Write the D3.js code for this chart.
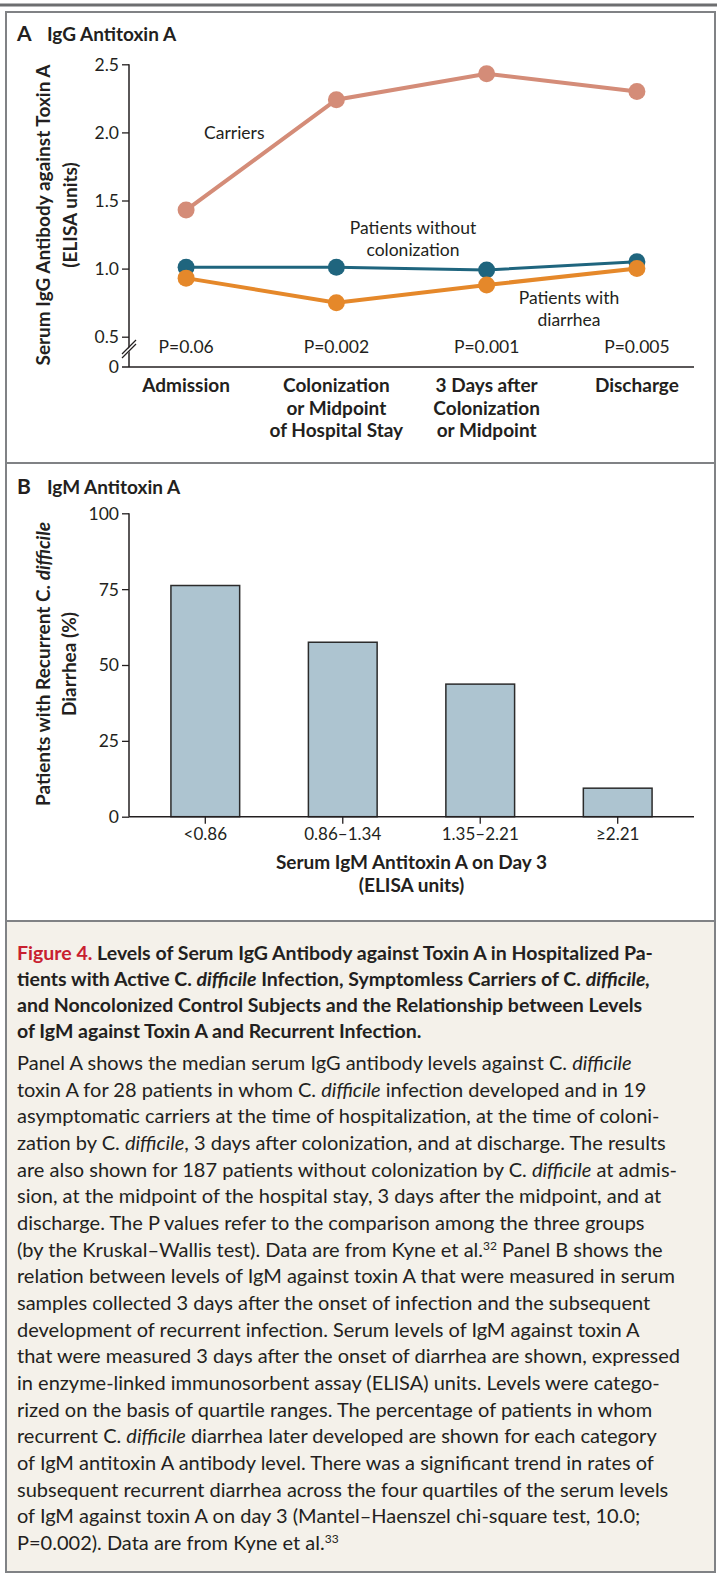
<!DOCTYPE html>
<html>
<head>
<meta charset="utf-8">
<script src="https://d3js.org/d3.v7.min.js"></script>
<style>
  body { margin: 0; background: #fff; }
  svg text { font-family: Lato, "Open Sans", sans-serif; fill: #231f20; }
</style>
</head>
<body>
<svg id="fig" width="718" height="1576"></svg>
<script>
// ---- panel A: median IgG antitoxin A ----
const timepoints = [
  ['Admission'],
  ['Colonization', 'or Midpoint', 'of Hospital Stay'],
  ['3 Days after', 'Colonization', 'or Midpoint'],
  ['Discharge']
];
const carriers = [1.43, 2.24, 2.43, 2.30];
const noColonization = [1.01, 1.01, 0.99, 1.05];
const withDiarrhea = [0.93, 0.75, 0.88, 1.00];
const pValues = ['P=0.06', 'P=0.002', 'P=0.001', 'P=0.005'];
const yTicksA = [0.5, 1.0, 1.5, 2.0, 2.5];

// ---- panel B: recurrent diarrhea by IgM quartile ----
const igmBins = ['<0.86', '0.86\u20131.34', '1.35\u20132.21', '\u22652.21'];
const recurrentPct = [76.2, 57.5, 43.7, 9.4];
const yTicksB = [0, 25, 50, 75, 100];

// caption (*italic*, ^superscript^, [red])
const captionTitle = [
  '[Figure 4.] Levels of Serum IgG Antibody against Toxin A in Hospitalized Pa-',
  'tients with Active C. *difficile* Infection, Symptomless Carriers of C. *difficile,*',
  'and Noncolonized Control Subjects and the Relationship between Levels',
  'of IgM against Toxin A and Recurrent Infection.'
];
const captionBody = [
  'Panel A shows the median serum IgG antibody levels against C. *difficile*',
  'toxin A for 28 patients in whom C. *difficile* infection developed and in 19',
  'asymptomatic carriers at the time of hospitalization, at the time of coloni-',
  'zation by C. *difficile*, 3 days after colonization, and at discharge. The results',
  'are also shown for 187 patients without colonization by C. *difficile* at admis-',
  'sion, at the midpoint of the hospital stay, 3 days after the midpoint, and at',
  'discharge. The P values refer to the comparison among the three groups',
  '(by the Kruskal\u2013Wallis test). Data are from Kyne et al.^32^ Panel B shows the',
  'relation between levels of IgM against toxin A that were measured in serum',
  'samples collected 3 days after the onset of infection and the subsequent',
  'development of recurrent infection. Serum levels of IgM against toxin A',
  'that were measured 3 days after the onset of diarrhea are shown, expressed',
  'in enzyme-linked immunosorbent assay (ELISA) units. Levels were catego-',
  'rized on the basis of quartile ranges. The percentage of patients in whom',
  'recurrent C. *difficile* diarrhea later developed are shown for each category',
  'of IgM antitoxin A antibody level. There was a significant trend in rates of',
  'subsequent recurrent diarrhea across the four quartiles of the serum levels',
  'of IgM against toxin A on day 3 (Mantel\u2013Haenszel chi-square test, 10.0;',
  'P=0.002). Data are from Kyne et al.^33^'
];

const svg = d3.select('#fig');
const ink = '#231f20';
const frameGray = '#808285';

// frame + caption box
svg.append('rect')
  .attr('x', 6).attr('y', 921).attr('width', 709).attr('height', 651)
  .attr('fill', '#f4f1ea');
svg.append('line')
  .attr('x1', 0).attr('x2', 717).attr('y1', 5).attr('y2', 5)
  .attr('stroke', '#6d6e70').attr('stroke-width', 3);
svg.append('rect')
  .attr('x', 6).attr('y', 12).attr('width', 709).attr('height', 1560)
  .attr('fill', 'none').attr('stroke', frameGray).attr('stroke-width', 2);
[463, 921].forEach(y => {
  svg.append('line')
    .attr('x1', 6).attr('x2', 715).attr('y1', y).attr('y2', y)
    .attr('stroke', frameGray).attr('stroke-width', 2);
});

function panelTitle(letter, title, y) {
  const t = svg.append('text').attr('x', 17).attr('y', y).attr('font-weight', 700);
  t.append('tspan').attr('font-size', 21).text(letter);
  t.append('tspan').attr('x', 47).attr('font-size', 19).text(title);
}

// ================= PANEL A =================
panelTitle('A', 'IgG Antitoxin A', 41);

const left = 129, right = 694;
const zeroA = 367;
const xA = d3.scalePoint().domain(d3.range(timepoints.length)).range([left, right]).padding(0.38);
const yA = d3.scaleLinear().domain([0.5, 2.5]).range([336.7, 64.3]);

const gA = svg.append('g');

// y axis (broken between 0 and 0.5)
const axA = gA.append('g')
  .attr('transform', `translate(${left},0)`)
  .call(d3.axisLeft(yA).tickValues(yTicksA).tickFormat(d3.format('.1f')).tickSize(7).tickPadding(3))
  .attr('font-size', 17.5);
axA.select('.domain').remove();
axA.selectAll('line').attr('stroke', ink).attr('stroke-width', 1.3);
axA.selectAll('text').attr('dy', '0.34em');
gA.append('line')
  .attr('x1', left).attr('x2', left).attr('y1', yA(2.5)).attr('y2', zeroA)
  .attr('stroke', ink).attr('stroke-width', 1.5);
gA.append('line')
  .attr('x1', left - 7).attr('x2', right).attr('y1', zeroA).attr('y2', zeroA)
  .attr('stroke', ink).attr('stroke-width', 1.5);
gA.append('text')
  .attr('x', left - 10).attr('y', zeroA + 6)
  .attr('text-anchor', 'end').attr('font-size', 17.5).text('0');
// break marks
gA.append('polygon')
  .attr('points', `${left - 6},${354} ${left + 6},${342} ${left + 6},${346} ${left - 6},${358}`)
  .attr('fill', '#fff');
[0, 4].forEach(o => {
  gA.append('line')
    .attr('x1', left - 7).attr('y1', 354 + o).attr('x2', left + 7).attr('y2', 340 + o)
    .attr('stroke', ink).attr('stroke-width', 1.2);
});

// y title
const yTitleA = gA.append('g').attr('font-weight', 700).attr('font-size', 19).attr('text-anchor', 'middle');
yTitleA.append('text').attr('transform', 'translate(50,215) rotate(-90)')
  .text('Serum IgG Antibody against Toxin A');
yTitleA.append('text').attr('transform', 'translate(77,215) rotate(-90)')
  .text('(ELISA units)');

// category labels
timepoints.forEach((lines, i) => {
  const t = gA.append('text')
    .attr('text-anchor', 'middle').attr('font-weight', 700).attr('font-size', 19);
  lines.forEach((s, j) => {
    t.append('tspan').attr('x', xA(i)).attr('y', 392 + j * 22.7).text(s);
  });
});

// P values
gA.selectAll('.pval').data(pValues).enter().append('text')
  .attr('class', 'pval')
  .attr('x', (d, i) => xA(i)).attr('y', 353)
  .attr('text-anchor', 'middle').attr('font-size', 17.5)
  .text(d => d);

// series
const series = [
  { values: carriers, color: '#d48c78', width: 4 },
  { values: noColonization, color: '#1f657e', width: 3 },
  { values: withDiarrhea, color: '#e5882a', width: 4 }
];
const line = d3.line().x((d, i) => xA(i)).y(d => yA(d));
series.forEach(s => {
  gA.append('path')
    .attr('d', line(s.values))
    .attr('fill', 'none').attr('stroke', s.color).attr('stroke-width', s.width);
});
series.forEach(s => {
  gA.selectAll(null).data(s.values).enter().append('circle')
    .attr('cx', (d, i) => xA(i)).attr('cy', d => yA(d))
    .attr('r', 8.5).attr('fill', s.color);
});

// series labels
const lab = gA.append('g').attr('font-size', 17.5);
lab.append('text').attr('x', 204).attr('y', 139).text('Carriers');
const noColLab = lab.append('text').attr('text-anchor', 'middle');
noColLab.append('tspan').attr('x', 413).attr('y', 233.5).text('Patients without');
noColLab.append('tspan').attr('x', 413).attr('y', 255.5).text('colonization');
const diaLab = lab.append('text').attr('text-anchor', 'middle');
diaLab.append('tspan').attr('x', 569).attr('y', 303.5).text('Patients with');
diaLab.append('tspan').attr('x', 569).attr('y', 325.5).text('diarrhea');

// ================= PANEL B =================
panelTitle('B', 'IgM Antitoxin A', 494);

const xB = d3.scaleBand().domain(igmBins).range([left, right]).paddingInner(0.5).paddingOuter(0.305);
const yB = d3.scaleLinear().domain([0, 100]).range([816.7, 513.3]);
const gB = svg.append('g');

gB.selectAll('rect.bar').data(recurrentPct).enter().append('rect')
  .attr('class', 'bar')
  .attr('x', (d, i) => xB(igmBins[i]))
  .attr('y', d => yB(d))
  .attr('width', xB.bandwidth())
  .attr('height', d => yB(0) - yB(d))
  .attr('fill', '#adc4d0').attr('stroke', '#2b2b2b').attr('stroke-width', 1.5);

const axB = gB.append('g')
  .attr('transform', `translate(${left},0)`)
  .call(d3.axisLeft(yB).tickValues(yTicksB).tickSize(7).tickPadding(3))
  .attr('font-size', 17.5);
axB.select('.domain').remove();
axB.selectAll('line').attr('stroke', ink).attr('stroke-width', 1.3);
axB.selectAll('text').attr('dy', '0.34em');
gB.append('line')
  .attr('x1', left).attr('x2', left).attr('y1', yB(100)).attr('y2', yB(0))
  .attr('stroke', ink).attr('stroke-width', 1.5);

const axBx = gB.append('g')
  .attr('transform', `translate(0,${yB(0)})`)
  .call(d3.axisBottom(xB).tickSize(7).tickPadding(4))
  .attr('font-size', 17);
axBx.select('.domain').remove();
axBx.selectAll('line').attr('stroke', ink).attr('stroke-width', 1.3);
gB.append('line')
  .attr('x1', left).attr('x2', right).attr('y1', yB(0)).attr('y2', yB(0))
  .attr('stroke', ink).attr('stroke-width', 1.5);

// y title with italic species name
const yTitleB = gB.append('g').attr('font-weight', 700).attr('font-size', 19).attr('text-anchor', 'middle');
const yb1 = yTitleB.append('text').attr('transform', 'translate(50,664) rotate(-90)');
yb1.append('tspan').text('Patients with Recurrent C. ');
yb1.append('tspan').attr('font-style', 'italic').text('difficile');
yTitleB.append('text').attr('transform', 'translate(76,664) rotate(-90)').text('Diarrhea (%)');

// x title
const xTitleB = gB.append('text').attr('text-anchor', 'middle').attr('font-weight', 700).attr('font-size', 19);
xTitleB.append('tspan').attr('x', (left + right) / 2).attr('y', 869).text('Serum IgM Antitoxin A on Day 3');
xTitleB.append('tspan').attr('x', (left + right) / 2).attr('y', 892).text('(ELISA units)');

// ================= CAPTION =================
function richLine(parent, str, x, y, size, weight) {
  const t = parent.append('text').attr('x', x).attr('y', y)
    .attr('font-size', size).attr('font-weight', weight);
  let shift = 0;
  str.split(/(\*[^*]+\*|\^[^^]+\^|\[[^\]]+\])/).filter(s => s.length).forEach(seg => {
    let sp;
    if (seg[0] === '^') {
      t.append('tspan').attr('font-size', size * 0.6).attr('dy', -7).text(seg.slice(1, -1));
      shift = 7;
      return;
    }
    if (seg[0] === '*') {
      sp = t.append('tspan').attr('font-style', 'italic').text(seg.slice(1, -1));
    } else if (seg[0] === '[') {
      sp = t.append('tspan').style('fill', '#c8202f').text(seg.slice(1, -1));
    } else {
      sp = t.append('tspan').text(seg);
    }
    if (shift) { sp.attr('dy', shift); shift = 0; }
  });
  const w = t.node().getComputedTextLength();
  if (w > 702 - x) t.attr('textLength', 702 - x).attr('lengthAdjust', 'spacingAndGlyphs');
  return t;
}

const cap = svg.append('g');
captionTitle.forEach((s, i) => richLine(cap, s, 17, 960 + i * 26, 19.5, 700));
captionBody.forEach((s, i) => richLine(cap, s, 17, 1070 + i * 26.67, 20, 400));
</script>
</body>
</html>
